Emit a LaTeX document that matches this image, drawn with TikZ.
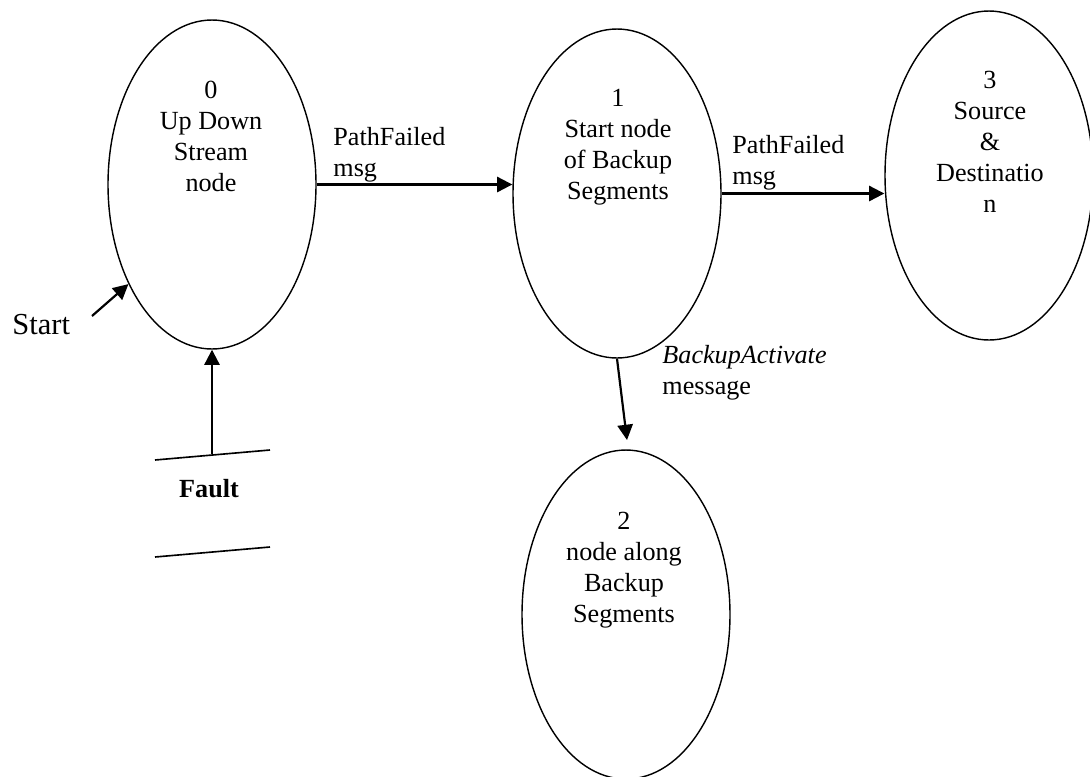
\documentclass[tikz,border=0pt]{standalone}
\usepackage{fontspec}
\setmainfont{Liberation Serif}
\usetikzlibrary{arrows.meta,shapes.geometric}
\begin{document}
\begin{tikzpicture}[x=0.4587pt,y=-0.4587pt,
  state/.style={draw,ellipse,line width=0.65pt,minimum width=95.4pt,minimum height=150.9pt,inner sep=0pt},
  stxt/.style={anchor=north,align=center,inner sep=0pt,font=\fontsize{12}{14.2}\selectfont},
  lbl/.style={anchor=north west,align=left,inner sep=0pt,font=\fontsize{12}{14.2}\selectfont},
  arr/.style={line width=1pt,-{Triangle[length=7pt,width=7pt]}},
  fline/.style={line width=0.75pt}]
\useasboundingbox (0,0) rectangle (1090,776);

\node[state] (e0) at (212,184.5) {};
\node[state] (e1) at (617,193.5) {};
\node[state] (e3) at (989,175.5) {};
\node[state] (e2) at (626,614.5) {};

\node[stxt] (t0) at (211,81) {0\\Up Down\\Stream\\node};
\node[stxt] (t1) at (618,89) {1\\Start node\\of Backup\\Segments};
\node[stxt] (t3) at (990,71) {3\\Source\\\&\\Destinatio\\n};
\node[stxt] (t2) at (624,512) {2\\node along\\Backup\\Segments};

\node[lbl] (l01) at (333,127) {PathFailed\\msg};
\node[lbl] (l13) at (732,135) {PathFailed\\msg};
\node[lbl] (l12) at (662,345) {\textit{BackupActivate}\\message};
\node[anchor=base west,inner sep=0pt,font=\fontsize{14}{16}\selectfont] (st) at (12,334) {Start};
\node[anchor=base,inner sep=0pt,font=\fontsize{12}{14.2}\selectfont\bfseries] (fault) at (209,497) {Fault};

\coordinate (s0) at (92,316);
\coordinate (f0) at (212,454);
\coordinate (a2) at (627,440);
\coordinate (fa) at (155,460);
\coordinate (fb) at (270,450);
\coordinate (fc) at (155,557);
\coordinate (fd) at (270,547);

\draw[arr] (e0.east) -- (e0.east -| e1.west);
\draw[arr] (e1.east) -- (e1.east -| e3.west);
\draw[arr] (e1.south) -- (a2);
\draw[arr] (s0) -- (e0.230);
\draw[arr] (f0) -- (e0.south);
\draw[fline] (fa) -- (fb);
\draw[fline] (fc) -- (fd);
\end{tikzpicture}
\end{document}
